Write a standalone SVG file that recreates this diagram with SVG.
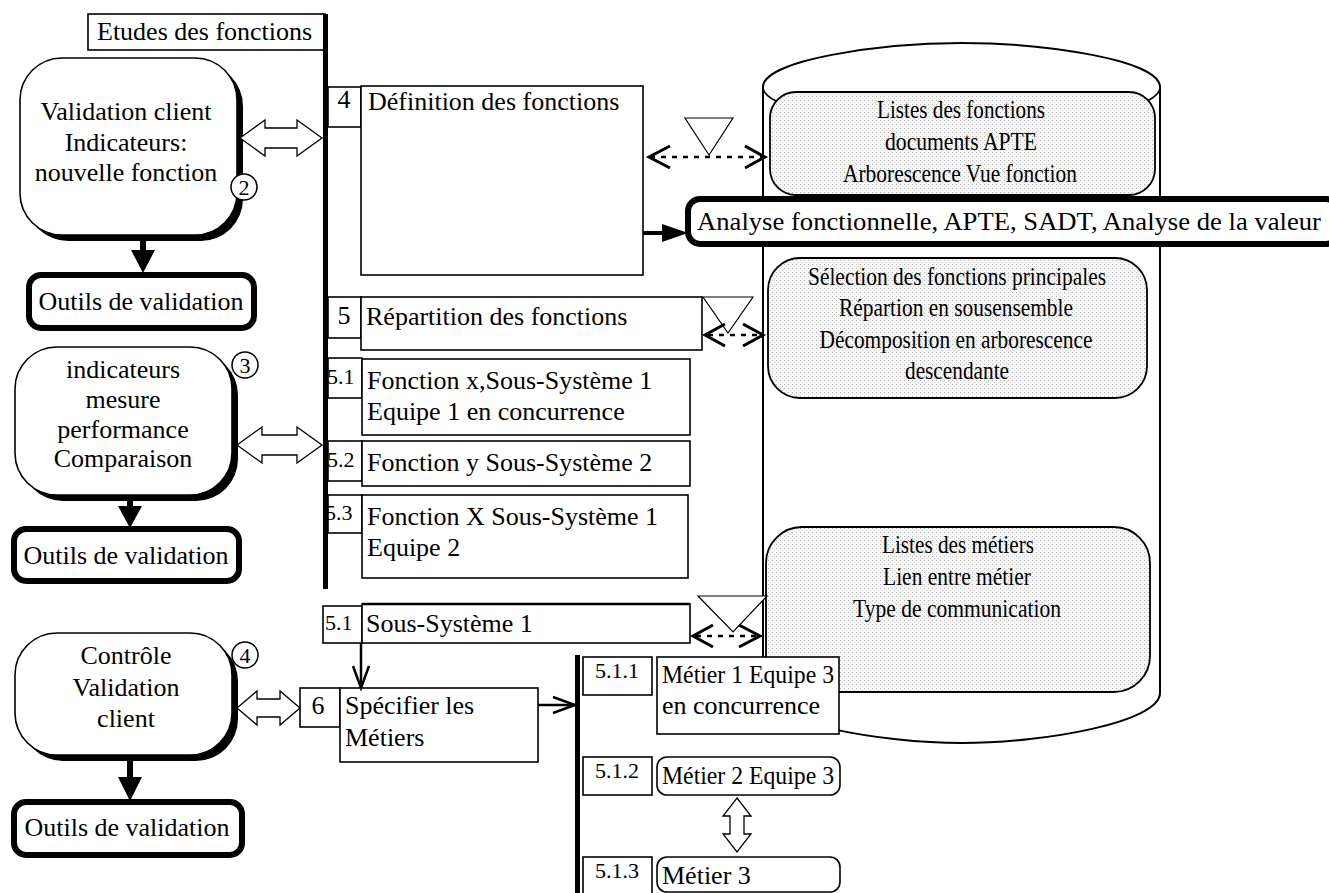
<svg xmlns="http://www.w3.org/2000/svg" width="1329" height="893" viewBox="0 0 1329 893" font-family="'Liberation Serif', 'DejaVu Serif', serif">
<defs>
<pattern id="dots" width="4" height="4" patternUnits="userSpaceOnUse"><rect width="4" height="4" fill="#f7f7f7"/><rect x="0" y="0" width="1" height="1" fill="#b4b4b4"/><rect x="2" y="2" width="1" height="1" fill="#d6d6d6"/></pattern>
</defs>
<style>
text{font-family:'Liberation Serif','DejaVu Serif',serif;font-size:26px;fill:#000}
.c{text-anchor:middle}
.s{font-size:22px}
.n{font-size:22px}
.cy{font-size:25px}
.box{fill:#fff;stroke:#000;stroke-width:1.6}
.thick{fill:#fff;stroke:#000;stroke-width:6}
.inner{fill:url(#dots);stroke:#000;stroke-width:1.8}
.hollow{fill:#fff;stroke:#000;stroke-width:1.3}
.dash{fill:none;stroke:#000;stroke-width:2.5;stroke-dasharray:5,6}
.chev{fill:none;stroke:#000;stroke-width:3}
.tri{fill:#fff;stroke:#000;stroke-width:1.2}
.line{fill:none;stroke:#000;stroke-width:2.5}
.bar{fill:#000}
</style>
<rect width="1329" height="893" fill="#fff"/>

<g id="cylinder">
<path d="M763,87 L763,693 C763,722 880,743 962,743 C1045,743 1160,722 1160,693 L1160,87 C1160,60 1045,43 962,43 C880,43 763,60 763,87 Z" fill="#fff" stroke="#000" stroke-width="2"/>
<path d="M763,87 C763,112 880,128 962,128 C1045,128 1160,112 1160,87" fill="none" stroke="#000" stroke-width="1.5"/>
</g>

<g id="store-fonctions">
<rect class="inner" x="770" y="92" width="385" height="103" rx="26"/>
<text class="c cy" x="961" y="118" textLength="168" lengthAdjust="spacingAndGlyphs">Listes des fonctions</text>
<text class="c cy" x="961" y="150" textLength="152" lengthAdjust="spacingAndGlyphs">documents APTE</text>
<text class="c cy" x="960" y="182" textLength="234" lengthAdjust="spacingAndGlyphs">Arborescence Vue fonction</text>
</g>

<g id="store-selection">
<rect class="inner" x="768" y="258" width="379" height="140" rx="32"/>
<text class="c cy" x="957" y="285" textLength="298" lengthAdjust="spacingAndGlyphs">Sélection des fonctions principales</text>
<text class="c cy" x="956" y="316" textLength="234" lengthAdjust="spacingAndGlyphs">Répartion en sousensemble</text>
<text class="c cy" x="956" y="348" textLength="273" lengthAdjust="spacingAndGlyphs">Décomposition en arborescence</text>
<text class="c cy" x="957" y="379" textLength="104" lengthAdjust="spacingAndGlyphs">descendante</text>
</g>

<g id="store-metiers">
<rect class="inner" x="766" y="527" width="384" height="165" rx="36"/>
<text class="c cy" x="958" y="553" textLength="152" lengthAdjust="spacingAndGlyphs">Listes des métiers</text>
<text class="c cy" x="957" y="585" textLength="148" lengthAdjust="spacingAndGlyphs">Lien entre métier</text>
<text class="c cy" x="957" y="617" textLength="208" lengthAdjust="spacingAndGlyphs">Type de communication</text>
</g>

<g id="analyse">
<rect class="thick" x="688" y="199" width="650" height="45" rx="12"/>
<text x="697" y="230" textLength="624" lengthAdjust="spacingAndGlyphs">Analyse fonctionnelle, APTE, SADT, Analyse de la valeur</text>
</g>

<g id="etudes">
<rect class="box" x="88" y="14" width="237" height="36"/>
<text x="97" y="40">Etudes des fonctions</text>
</g>
<rect class="bar" x="323" y="14" width="5" height="575"/>
<rect class="bar" x="575" y="655" width="5" height="238"/>

<g id="client1">
<rect x="26" y="64" width="217" height="177" rx="42" fill="#000"/>
<rect class="box" x="20" y="58" width="217" height="177" rx="42"/>
<text class="c" x="126" y="120">Validation client</text>
<text class="c" x="126" y="151">Indicateurs:</text>
<text class="c" x="126" y="181">nouvelle fonction</text>
<circle cx="244" cy="187" r="13" fill="#fff" stroke="#000" stroke-width="1.5"/>
<text class="c n" x="244" y="195">2</text>
</g>
<g id="outils1">
<rect class="thick" x="29" y="275" width="225" height="53" rx="12"/>
<text class="c" x="141" y="310">Outils de validation</text>
</g>

<g id="client2">
<rect x="21" y="353" width="217" height="148" rx="42" fill="#000"/>
<rect class="box" x="15" y="347" width="217" height="148" rx="42"/>
<text class="c" x="123" y="378">indicateurs</text>
<text class="c" x="123" y="408">mesure</text>
<text class="c" x="123" y="438">performance</text>
<text class="c" x="123" y="467">Comparaison</text>
<circle cx="245" cy="365" r="13" fill="#fff" stroke="#000" stroke-width="1.5"/>
<text class="c n" x="245" y="373">3</text>
</g>
<g id="outils2">
<rect class="thick" x="14" y="529" width="225" height="52" rx="12"/>
<text class="c" x="126" y="564">Outils de validation</text>
</g>

<g id="client3">
<rect x="21" y="639" width="217" height="122" rx="42" fill="#000"/>
<rect class="box" x="15" y="633" width="217" height="122" rx="42"/>
<text class="c" x="126" y="664">Contrôle</text>
<text class="c" x="126" y="696">Validation</text>
<text class="c" x="126" y="727">client</text>
<circle cx="245" cy="655" r="13" fill="#fff" stroke="#000" stroke-width="1.5"/>
<text class="c n" x="245" y="663">4</text>
</g>
<g id="outils3">
<rect class="thick" x="14" y="802" width="228" height="53" rx="12"/>
<text class="c" x="127" y="836">Outils de validation</text>
</g>

<g id="definition">
<rect class="box" x="328" y="87" width="33" height="40"/>
<text class="c" x="344" y="108">4</text>
<rect class="box" x="361" y="86" width="282" height="189"/>
<text x="368" y="110">Définition des fonctions</text>
</g>

<g id="repartition">
<rect class="box" x="328" y="297" width="33" height="41"/>
<text class="c" x="344" y="324">5</text>
<rect class="box" x="361" y="297" width="341" height="53"/>
<text x="366" y="325">Répartition des fonctions</text>
</g>

<g id="f51">
<rect class="box" x="328" y="358" width="34" height="40"/>
<text class="s" x="327" y="384">5.1</text>
<rect class="box" x="362" y="359" width="328" height="76"/>
<text x="367" y="389">Fonction x,Sous-Système 1</text>
<text x="367" y="420">Equipe 1 en concurrence</text>
</g>

<g id="f52">
<rect class="box" x="328" y="441" width="34" height="40"/>
<text class="s" x="327" y="467">5.2</text>
<rect class="box" x="362" y="441" width="328" height="45"/>
<text x="367" y="471">Fonction y Sous-Système 2</text>
</g>

<g id="f53">
<rect class="box" x="328" y="495" width="34" height="38"/>
<text class="s" x="325" y="520">5.3</text>
<rect class="box" x="362" y="495" width="326" height="83"/>
<text x="367" y="525">Fonction X Sous-Système 1</text>
<text x="367" y="556">Equipe 2</text>
</g>

<g id="ss1">
<rect class="box" x="323" y="606" width="39" height="37"/>
<text class="s" x="325" y="630">5.1</text>
<rect class="box" x="362" y="604" width="328" height="39"/>
<line x1="362" y1="604" x2="690" y2="604" stroke="#000" stroke-width="2.5"/>
<text x="366" y="632">Sous-Système 1</text>
</g>

<g id="specifier">
<rect class="box" x="300" y="688" width="40" height="39"/>
<text class="c" x="318" y="714">6</text>
<rect class="box" x="340" y="688" width="198" height="74"/>
<text x="345" y="714">Spécifier les</text>
<text x="345" y="746">Métiers</text>
</g>

<g id="m511">
<rect class="box" x="583" y="657" width="69" height="38"/>
<text class="s c" x="617" y="678">5.1.1</text>
<rect class="box" x="657" y="657" width="182" height="77"/>
<text x="662" y="683" textLength="172" lengthAdjust="spacingAndGlyphs">Métier 1 Equipe 3</text>
<text x="662" y="714">en concurrence</text>
</g>

<g id="m512">
<rect class="box" x="583" y="757" width="69" height="38"/>
<text class="s c" x="617" y="778">5.1.2</text>
<rect class="box" x="657" y="757" width="183" height="38" rx="10"/>
<text x="662" y="784" textLength="172" lengthAdjust="spacingAndGlyphs">Métier 2 Equipe 3</text>
</g>

<g id="m513">
<rect class="box" x="583" y="857" width="69" height="40"/>
<text class="s c" x="617" y="878">5.1.3</text>
<rect class="box" x="657" y="857" width="183" height="35" rx="10"/>
<text x="662" y="884">Métier 3</text>
</g>

<g id="connectors">
<polygon class="hollow" points="240,138 265,120 265,128 297,128 297,120 322,138 297,156 297,148 265,148 265,156"/>
<polygon class="hollow" points="237,445 262,427 262,435 297,435 297,427 322,445 297,463 297,455 262,455 262,463"/>
<polygon class="hollow" points="237,708 257,691 257,699 280,699 280,691 300,708 280,725 280,717 257,717 257,725"/>
<polygon class="hollow" points="737,798 751,816 744,816 744,834 751,834 737,852 723,834 730,834 730,816 723,816"/>

<line x1="143" y1="237" x2="143" y2="254" stroke="#000" stroke-width="6"/>
<polygon points="131,250 155,250 143,273" fill="#000"/>
<line x1="130" y1="497" x2="130" y2="510" stroke="#000" stroke-width="6"/>
<polygon points="118,506 142,506 130,528" fill="#000"/>
<line x1="130" y1="757" x2="130" y2="780" stroke="#000" stroke-width="6"/>
<polygon points="118,777 142,777 130,801" fill="#000"/>

<line x1="643" y1="233" x2="666" y2="233" stroke="#000" stroke-width="4"/>
<polygon points="662,224 662,242 688,233" fill="#000"/>

<polygon class="tri" points="685,118 733,118 709,155"/>
<line class="dash" x1="650" y1="157" x2="764" y2="157"/>
<polyline class="chev" points="670,146 649,157 670,168"/>
<polyline class="chev" points="745,146 765,157 745,168"/>

<polygon class="tri" points="703,297 753,297 728,333"/>
<line class="dash" x1="708" y1="335" x2="761" y2="335"/>
<polyline class="chev" points="725,324 705,335 725,346"/>
<polyline class="chev" points="743,324 763,335 743,346"/>

<polygon class="tri" points="698,596 767,596 733,632"/>
<line class="dash" x1="696" y1="636" x2="757" y2="636"/>
<polyline class="chev" points="713,625 693,636 713,647"/>
<polyline class="chev" points="739,625 760,636 739,647"/>

<line class="line" x1="361" y1="643" x2="361" y2="687"/>
<polyline class="line" points="353,666 361,688 369,666"/>
<line class="line" x1="538" y1="705" x2="575" y2="705"/>
<polyline class="line" points="553,697 575,705 553,713"/>
</g>
</svg>
